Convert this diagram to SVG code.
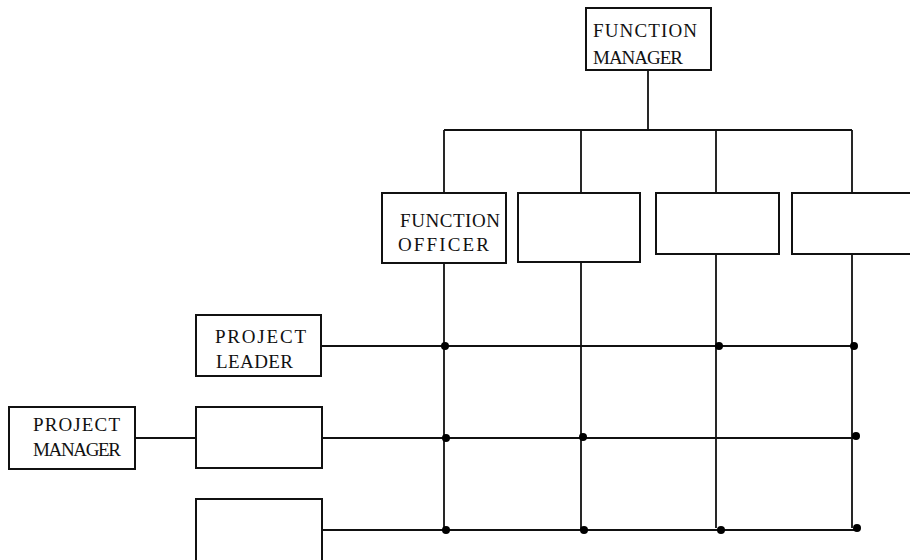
<svg xmlns="http://www.w3.org/2000/svg" width="910" height="560" viewBox="0 0 910 560">
  <style>
    .box { fill: #fff; stroke: #111; stroke-width: 2; }
    .wire { fill: none; stroke: #111; stroke-width: 1.8; }
    .dot { fill: #000; }
    .lbl { font-family: "Liberation Serif", "DejaVu Serif", serif; font-size: 19px; fill: #111; }
  </style>
  <rect width="910" height="560" fill="#fff"/>

  <!-- connectors: reporting lines and the project/function matrix -->
  <g id="connectors">
    <path class="wire" d="M648 70 V130 M444 130 H852 M444 130 V193 M581 130 V193 M716 130 V193 M852 130 V193"/>
    <path class="wire" d="M444 263 V530 M581 262 V530 M716 254 V528 M852 254 V528"/>
    <path class="wire" d="M321 346 H854 M322 438 H855 M322 530 H856 M135 438 H196"/>
    <g id="junctions">
      <circle class="dot" cx="445" cy="346" r="4"/>
      <circle class="dot" cx="719" cy="346" r="4"/>
      <circle class="dot" cx="854" cy="346" r="4"/>
      <circle class="dot" cx="446" cy="438" r="4"/>
      <circle class="dot" cx="583" cy="437" r="4"/>
      <circle class="dot" cx="856" cy="436" r="4"/>
      <circle class="dot" cx="446" cy="530" r="4"/>
      <circle class="dot" cx="584" cy="530" r="4"/>
      <circle class="dot" cx="721" cy="530" r="4"/>
      <circle class="dot" cx="857" cy="528" r="4"/>
    </g>
  </g>

  <g id="function-manager">
    <rect class="box" x="586" y="8" width="125" height="62"/>
    <text class="lbl" x="593" y="37" textLength="104" lengthAdjust="spacing">FUNCTION</text>
    <text class="lbl" x="593" y="64" textLength="90" lengthAdjust="spacing">MANAGER</text>
  </g>

  <g id="function-officer">
    <rect class="box" x="382" y="193" width="124" height="70"/>
    <text class="lbl" x="400" y="227" textLength="100" lengthAdjust="spacing">FUNCTION</text>
    <text class="lbl" x="398" y="251" textLength="91" lengthAdjust="spacing">OFFICER</text>
  </g>

  <g id="function-2">
    <rect class="box" x="518" y="193" width="122" height="69"/>
  </g>
  <g id="function-3">
    <rect class="box" x="656" y="193" width="123" height="61"/>
  </g>
  <g id="function-4">
    <rect class="box" x="792" y="193" width="130" height="61"/>
  </g>

  <g id="project-leader">
    <rect class="box" x="196" y="315" width="125" height="61"/>
    <text class="lbl" x="215" y="343" textLength="91" lengthAdjust="spacing">PROJECT</text>
    <text class="lbl" x="216" y="368" textLength="77" lengthAdjust="spacing">LEADER</text>
  </g>

  <g id="project-2">
    <rect class="box" x="196" y="407" width="126" height="61"/>
  </g>
  <g id="project-3">
    <rect class="box" x="196" y="499" width="126" height="70"/>
  </g>

  <g id="project-manager">
    <rect class="box" x="9" y="407" width="126" height="62"/>
    <text class="lbl" x="33" y="431" textLength="87" lengthAdjust="spacing">PROJECT</text>
    <text class="lbl" x="33" y="456" textLength="88" lengthAdjust="spacing">MANAGER</text>
  </g>
</svg>
